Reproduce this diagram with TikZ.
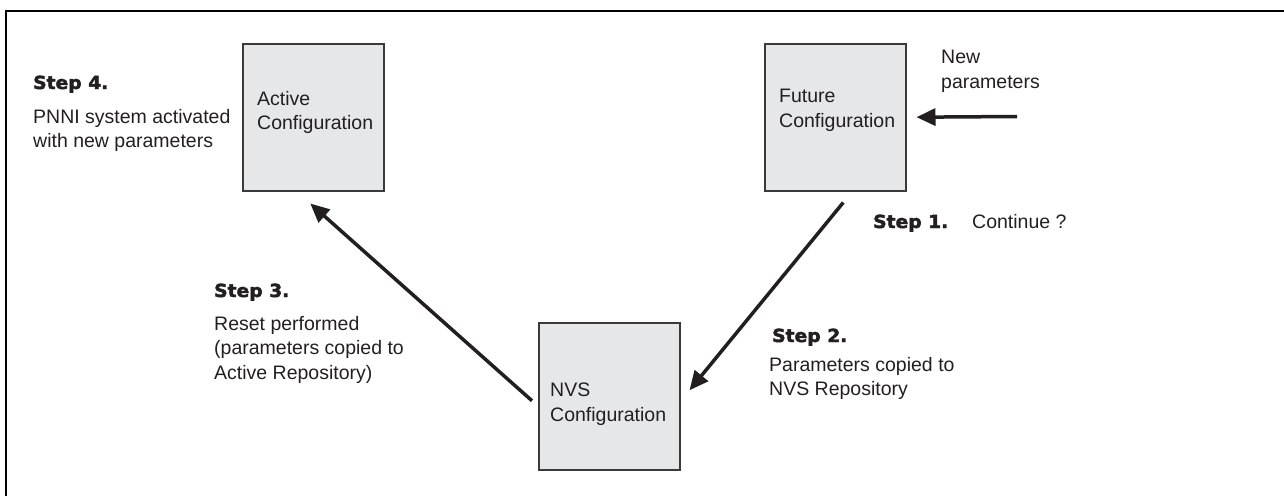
\documentclass[tikz,border=0pt]{standalone}
\usepackage{fontspec}
\setmainfont{Liberation Sans}
\newfontfamily\stepfont[FakeStretch=1.04,FakeBold=2.4]{DejaVu Sans}
\usetikzlibrary{arrows.meta}
\definecolor{boxfill}{HTML}{E6E7E8}
\definecolor{boxline}{HTML}{3A3A3A}
\definecolor{ink}{HTML}{231F20}
\begin{document}
\begin{tikzpicture}[x=1pt,y=-1pt,
  cfgbox/.style={draw=boxline,line width=1.5pt,fill=boxfill,minimum width=141pt,minimum height=147pt,anchor=north west,inner sep=0pt},
  body/.style={font=\fontsize{19.5}{24.5}\selectfont,text=ink,align=left,inner sep=0pt,anchor=north west},
  steplabel/.style={font=\stepfont\bfseries\fontsize{18}{21}\selectfont,text=ink,inner sep=0pt,anchor=base west},
  flow/.style={draw=ink,line width=3.5pt,-{Triangle[length=19pt,width=17pt]}}]
\useasboundingbox (0,0) rectangle (1284,496);
% frame
\draw[line width=2pt] (1284,10.5) -- (5.5,10.5) -- (5.5,496);
% boxes
\node[cfgbox] (active) at (242,43) {};
\node[cfgbox] (future) at (764,43) {};
\node[cfgbox] (nvs) at (538,322) {};
% box texts
\node[body] (activetxt) at (257,91) {Active\\Configuration};
\node[body] (futuretxt) at (779,89) {Future\\Configuration};
\node[body] (nvstxt) at (550,383) {NVS\\Configuration};
% side texts
\node[body] (newpar) at (941,50) {New\\parameters};
\node[steplabel] (s4) at (33,89) {Step 4.};
\node[body] (s4txt) at (33,109) {PNNI system activated\\with new parameters};
\node[steplabel] (s1) at (873,228) {Step 1.};
\node[body,anchor=base west] (s1txt) at (972,228) {Continue ?};
\node[steplabel] (s2) at (772,342) {Step 2.};
\node[body] (s2txt) at (769,357) {Parameters copied to\\NVS Repository};
\node[steplabel] (s3) at (214,297) {Step 3.};
\node[body] (s3txt) at (214,316) {Reset performed\\(parameters copied to\\Active Repository)};
% connectors
\coordinate (npstart) at (1017,116.5);
\draw[flow,shorten >=10pt] (npstart) -- (future.east);
\draw[flow] ([shift={(8,11)}]future.south) -- ([shift={(9,-6)}]nvs.east);
\draw[flow] ([shift={(-6,4.5)}]nvs.west) -- ([shift={(-3,12)}]active.south);
\end{tikzpicture}
\end{document}
